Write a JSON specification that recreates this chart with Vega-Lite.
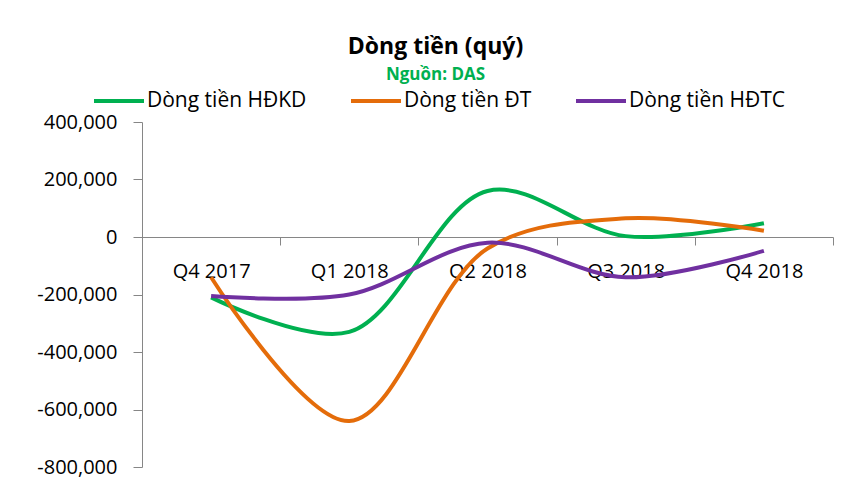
{
  "$schema": "https://vega.github.io/schema/vega-lite/v6.json",
  "width": 691,
  "height": 345,
  "autosize": "none",
  "padding": {"left": 142, "top": 122, "right": 19, "bottom": 24},
  "background": "white",
  "view": {"stroke": null},
  "title": {
    "text": "Dòng tiền (quý)",
    "subtitle": "Nguồn: DAS",
    "anchor": "middle",
    "frame": "group",
    "dx": -52,
    "font": "Open Sans",
    "fontSize": 23,
    "fontWeight": "bold",
    "color": "#000000",
    "subtitleFont": "Open Sans",
    "subtitleFontSize": 17,
    "subtitleFontWeight": "bold",
    "subtitleColor": "#00B050",
    "subtitlePadding": 8,
    "offset": -9
  },
  "data": {
    "values": [
      {"quy": "Q4 2017", "series": "Dòng tiền HĐKD", "value": -210000},
      {"quy": "Q1 2018", "series": "Dòng tiền HĐKD", "value": -330000},
      {"quy": "Q2 2018", "series": "Dòng tiền HĐKD", "value": 160000},
      {"quy": "Q3 2018", "series": "Dòng tiền HĐKD", "value": 3000},
      {"quy": "Q4 2018", "series": "Dòng tiền HĐKD", "value": 48000},
      {"quy": "Q4 2017", "series": "Dòng tiền ĐT", "value": -140000},
      {"quy": "Q1 2018", "series": "Dòng tiền ĐT", "value": -640000},
      {"quy": "Q2 2018", "series": "Dòng tiền ĐT", "value": -40000},
      {"quy": "Q3 2018", "series": "Dòng tiền ĐT", "value": 65000},
      {"quy": "Q4 2018", "series": "Dòng tiền ĐT", "value": 22000},
      {"quy": "Q4 2017", "series": "Dòng tiền HĐTC", "value": -205000},
      {"quy": "Q1 2018", "series": "Dòng tiền HĐTC", "value": -200000},
      {"quy": "Q2 2018", "series": "Dòng tiền HĐTC", "value": -20000},
      {"quy": "Q3 2018", "series": "Dòng tiền HĐTC", "value": -140000},
      {"quy": "Q4 2018", "series": "Dòng tiền HĐTC", "value": -48000}
    ]
  },
  "mark": {"type": "line", "interpolate": "catmull-rom", "strokeWidth": 4},
  "encoding": {
    "x": {
      "field": "quy",
      "type": "nominal",
      "sort": ["Q4 2017", "Q1 2018", "Q2 2018", "Q3 2018", "Q4 2018"],
      "bandPosition": 0.5,
      "scale": {"type": "band", "paddingInner": 0, "paddingOuter": 0},
      "axis": {
        "title": null,
        "offset": -230,
        "tickBand": "extent",
        "labelAngle": 0,
        "tickSize": 8,
        "labelPadding": 16,
        "domainColor": "#868686",
        "tickColor": "#868686",
        "labelFont": "Open Sans",
        "labelFontSize": 20,
        "labelColor": "#000000",
        "grid": false
      }
    },
    "y": {
      "field": "value",
      "type": "quantitative",
      "scale": {"domain": [-800000, 400000], "nice": false, "zero": false},
      "axis": {
        "title": null,
        "values": [-800000, -600000, -400000, -200000, 0, 200000, 400000],
        "labelExpr": "replace(format(datum.value, ',.0f'), '\u2212', '-')",
        "tickSize": 9,
        "labelPadding": 16,
        "grid": false,
        "domainColor": "#868686",
        "tickColor": "#868686",
        "labelFont": "Open Sans",
        "labelFontSize": 20,
        "labelColor": "#000000"
      }
    },
    "color": {
      "field": "series",
      "type": "nominal",
      "sort": ["Dòng tiền HĐKD", "Dòng tiền ĐT", "Dòng tiền HĐTC"],
      "scale": {
        "domain": ["Dòng tiền HĐKD", "Dòng tiền ĐT", "Dòng tiền HĐTC"],
        "range": ["#00B050", "#E46C0A", "#7030A0"]
      },
      "legend": {
        "title": null,
        "orient": "none",
        "legendX": -50,
        "legendY": -48,
        "direction": "horizontal",
        "symbolType": "stroke",
        "symbolSize": 2500,
        "symbolStrokeWidth": 4,
        "labelFont": "Open Sans",
        "labelFontSize": 21,
        "labelColor": "#000000",
        "labelOffset": 1,
        "columnPadding": 36
      }
    }
  }
}
